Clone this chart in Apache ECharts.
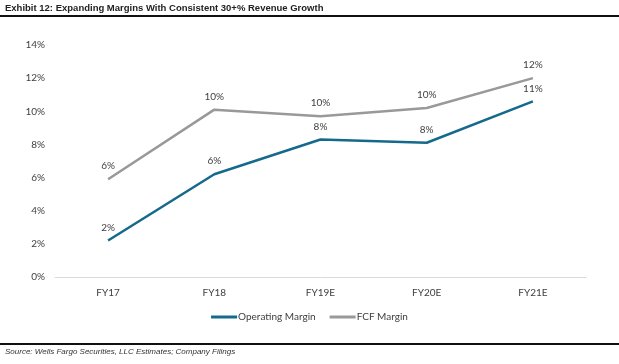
<!DOCTYPE html>
<html><head><meta charset="utf-8">
<script src="https://cdn.jsdelivr.net/npm/echarts@6/dist/echarts.min.js"></script>
<style>html,body{margin:0;padding:0;background:#fff}#c{width:619px;height:364px}</style>
</head><body><div id="c"></div>
<script>
const categories = ['FY17','FY18','FY19E','FY20E','FY21E'];
const operatingMargin = [2.2, 6.2, 8.3, 8.1, 10.6];
const fcfMargin = [5.9, 10.1, 9.7, 10.2, 12.0];
const yTicks = [0,2,4,6,8,10,12,14];

const chart = echarts.init(document.getElementById('c'));
const F = 'Lato, Liberation Sans, Arial';
const lbl = {show:true, position:'top', distance:8, fontFamily:F, fontSize:10, color:'#404040',
  formatter:p=>Math.round(p.value)+'%'};
chart.setOption({
  animation:false,
  grid:{left:55,right:33,top:45,bottom:87},
  graphic:[
    {type:'text',left:5,top:3,style:{text:'Exhibit 12: Expanding Margins With Consistent 30+% Revenue Growth',font:'bold 9.5px Liberation Sans, Arial',fill:'#222'}},
    {type:'rect',shape:{x:0,y:15,width:619,height:2},style:{fill:'#111'}},
    {type:'rect',shape:{x:0,y:343,width:619,height:2},style:{fill:'#111'}},
    {type:'text',left:5,top:348,style:{text:'Source: Wells Fargo Securities, LLC Estimates; Company Filings',font:'italic 8px Liberation Sans, Arial',fill:'#333'}}
  ],
  legend:{bottom:37,left:'center',itemWidth:26,itemHeight:3,itemGap:14,icon:'rect',
    textStyle:{fontFamily:F,fontSize:10,color:'#404040',padding:[0,0,0,-4]},
    data:['Operating Margin','FCF Margin']},
  xAxis:{type:'category',data:categories,boundaryGap:true,
    axisLine:{lineStyle:{color:'#d9d9d9',width:1}},axisTick:{show:false},
    axisLabel:{fontFamily:F,fontSize:10,color:'#404040',margin:11}},
  yAxis:{type:'value',min:0,max:14,interval:2,splitLine:{show:false},axisLine:{show:false},axisTick:{show:false},
    axisLabel:{fontFamily:F,fontSize:10,color:'#404040',margin:10,formatter:v=>yTicks.includes(v)?v+'%':''}},
  series:[
    {name:'Operating Margin',type:'line',data:operatingMargin,symbol:'circle',symbolSize:0,lineStyle:{color:'#156a8c',width:2.5},itemStyle:{color:'#156a8c'},label:lbl},
    {name:'FCF Margin',type:'line',data:fcfMargin,symbol:'circle',symbolSize:0,lineStyle:{color:'#999999',width:2.5},itemStyle:{color:'#999999'},label:lbl}
  ]
});
</script></body></html>
